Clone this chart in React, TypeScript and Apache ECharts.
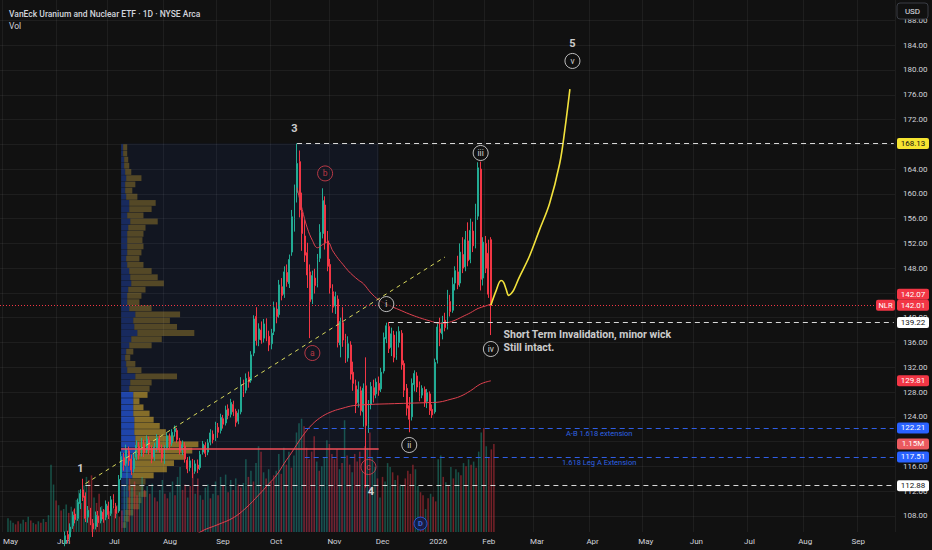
import React, { useEffect, useRef } from "react";
import * as echarts from "echarts";

// ---------- layout / style constants ----------
const W = 932;
const H = 550;
const BG = "#111111";
const UP = "#22ab94";
const DOWN = "#f23645";
const UP_VOL = "rgba(34,171,148,0.42)";
const DOWN_VOL = "rgba(242,54,69,0.45)";
const GRIDLINE = "rgba(255,255,255,0.055)";
const AXIS_TEXT = "#d1d4dc";
const FONT = 'Roboto, "Noto Sans", sans-serif';
const GRID = { left: 0, right: 37, top: 0, bottom: 18 };
const PLOT_RIGHT = W - GRID.right;
const TAG_H = 11;

const TITLE = "VanEck Uranium and Nuclear ETF · 1D · NYSE Arca";

// ---------- calendar (categories) ----------
const FIRST_SESSION = "2025-04-30";
const SESSION_COUNT = 351;
const HOLIDAYS = [
  "2025-05-26", "2025-06-19", "2025-07-04", "2025-09-01", "2025-11-27", "2025-12-25",
  "2026-01-01", "2026-01-19", "2026-02-16", "2026-04-03", "2026-05-25", "2026-06-19",
  "2026-07-03", "2026-09-07",
];
const MONTHS = ["Jan", "Feb", "Mar", "Apr", "May", "Jun", "Jul", "Aug", "Sep", "Oct", "Nov", "Dec"];

function buildSessions(start: string, count: number): string[] {
  const out: string[] = [];
  const d = new Date(start + "T00:00:00Z");
  while (out.length < count) {
    const dow = d.getUTCDay();
    const iso = d.toISOString().slice(0, 10);
    if (dow !== 0 && dow !== 6 && !HOLIDAYS.includes(iso)) out.push(iso);
    d.setUTCDate(d.getUTCDate() + 1);
  }
  return out;
}
const DATES = buildSessions(FIRST_SESSION, SESSION_COUNT);

// ---------- price axis ----------
const PRICE_MIN = 105.4;
const PRICE_MAX = 191.3;
const PRICE_TICKS = [108, 112, 116, 120, 124, 128, 132, 136, 140, 144, 148, 152, 156, 160, 164, 168, 172, 176, 180, 184, 188];
// labels hidden behind the price tags (168.13, 142.07) are not drawn
const PRICE_LABELS = [108, 112, 116, 120, 124, 128, 132, 136, 140, 148, 152, 156, 160, 164, 172, 176, 180, 184, 188];
const VOLUME_MAX = 6.95;

// ---------- daily candles [open, close, low, high] ----------
const candApr = [[82.5, 83.6, 81.9, 84.0]];
const candMay = [
  [83.6, 85.2, 83.1, 85.6], [85.8, 86.9, 85.4, 87.3], [86.5, 85.7, 85.1, 87.0], [85.5, 84.9, 84.2, 86.0],
  [85.2, 86.4, 84.9, 86.8], [86.9, 88.3, 86.5, 88.9], [88.1, 87.6, 87.0, 88.6], [89.5, 90.8, 89.0, 91.4],
  [90.9, 90.2, 89.6, 91.5], [90.3, 91.5, 89.9, 92.0], [91.2, 90.6, 89.8, 91.7], [90.8, 91.9, 90.4, 92.3],
  [91.5, 91.1, 90.3, 92.0], [91.3, 92.4, 90.9, 92.9], [92.1, 91.2, 90.6, 92.7], [91.5, 92.8, 91.0, 93.4],
  [96.5, 99.2, 95.8, 100.1], [99.8, 101.5, 99.0, 102.3], [101.2, 100.1, 99.4, 101.9], [100.4, 101.8, 99.9, 102.5],
  [101.5, 100.6, 99.8, 102.0],
];
const candJun = [
  [101.0, 102.6, 100.5, 103.2], [102.8, 104.1, 102.2, 104.6], [104.0, 103.3, 102.8, 104.9], [103.6, 104.8, 103.1, 105.5],
  [105.0, 104.2, 103.6, 105.6], [104.6, 106.2, 104.1, 106.8], [106.4, 108.1, 105.9, 108.7], [108.3, 107.4, 106.8, 109.2],
  [107.6, 110.2, 107.2, 110.8], [110.0, 111.6, 109.1, 112.3], [112.2, 111.0, 110.4, 114.0], [111.2, 107.6, 107.0, 111.8],
  [107.8, 108.9, 106.9, 109.6], [108.6, 107.2, 106.5, 109.3], [106.8, 105.9, 104.6, 107.5], [106.3, 108.1, 105.8, 108.7],
  [108.0, 106.9, 106.2, 108.8], [107.2, 108.8, 106.8, 109.4], [108.6, 107.5, 106.9, 109.1], [107.8, 109.9, 107.3, 110.5],
];
const candJul = [
  [109.6, 108.2, 107.5, 110.3], [108.4, 110.6, 108.0, 111.2], [110.8, 109.7, 109.2, 111.5], [109.5, 108.4, 107.6, 110.1],
  [108.8, 113.9, 108.5, 114.6], [114.2, 117.6, 113.8, 118.4], [117.4, 116.2, 115.3, 118.2], [116.5, 118.8, 116.0, 119.5],
  [118.5, 116.9, 116.1, 119.2], [117.2, 115.4, 114.6, 117.9], [115.6, 117.3, 115.0, 118.1], [117.5, 119.4, 117.0, 120.2],
  [119.2, 117.8, 117.1, 119.9], [118.1, 119.7, 117.6, 120.6], [119.6, 118.2, 117.5, 120.3], [118.6, 120.4, 118.1, 121.0],
  [120.2, 118.7, 117.9, 120.8], [118.9, 117.3, 116.5, 119.4], [117.5, 119.1, 116.9, 119.8], [119.0, 120.6, 118.4, 121.2],
  [120.4, 118.9, 118.2, 121.0], [118.7, 117.4, 116.6, 119.5],
];
const candAug = [
  [117.0, 118.8, 116.4, 119.4], [119.0, 120.9, 118.6, 121.5], [120.7, 119.6, 118.9, 121.3], [119.8, 121.5, 119.3, 122.0],
  [121.6, 122.1, 120.8, 122.6], [121.8, 120.3, 119.8, 122.2], [120.1, 118.4, 117.9, 120.6], [118.6, 119.5, 117.8, 120.2],
  [119.3, 117.2, 116.6, 119.9], [117.0, 115.6, 114.9, 117.5], [115.8, 116.9, 115.2, 117.6], [116.7, 115.0, 114.1, 117.2],
  [115.2, 116.4, 114.8, 117.0], [116.2, 115.6, 114.9, 117.1], [115.8, 117.9, 115.4, 118.5], [118.3, 119.6, 117.9, 120.1],
  [119.4, 118.1, 117.5, 119.9], [118.3, 119.8, 117.8, 120.4], [119.9, 121.4, 119.4, 122.0], [121.2, 120.3, 119.7, 121.8],
  [120.5, 122.6, 120.1, 123.2],
];
const candSep = [
  [122.3, 121.5, 120.6, 123.0], [121.8, 123.9, 121.3, 124.5], [123.7, 122.8, 122.1, 124.3], [123.0, 125.1, 122.6, 125.8],
  [125.3, 124.2, 123.6, 126.0], [124.4, 126.3, 123.9, 126.9], [126.0, 124.8, 124.1, 126.6], [124.9, 123.1, 122.4, 125.3],
  [123.3, 124.6, 122.8, 125.2], [124.8, 129.2, 124.4, 130.4], [129.0, 128.1, 127.2, 130.0], [128.3, 130.2, 127.8, 131.0],
  [130.4, 129.6, 128.7, 131.3], [129.9, 134.0, 129.5, 134.6], [134.3, 139.8, 133.8, 140.4], [140.2, 136.3, 135.5, 141.7],
  [136.5, 138.2, 135.4, 139.1], [138.0, 136.4, 135.8, 139.4], [136.7, 139.0, 136.0, 139.8], [138.8, 137.2, 136.2, 139.9],
  [137.0, 135.6, 134.6, 137.9],
];
const candOct = [
  [135.8, 137.5, 134.9, 138.2], [137.8, 141.6, 137.2, 142.6], [141.4, 140.2, 139.1, 142.5], [140.5, 145.3, 140.0, 146.1],
  [145.0, 143.6, 142.8, 146.4], [143.8, 147.4, 143.2, 148.3], [147.3, 145.8, 145.0, 148.6], [145.5, 149.4, 144.8, 150.2],
  [150.6, 156.3, 150.0, 157.4], [156.0, 159.8, 153.9, 161.5], [160.2, 164.9, 158.6, 168.13], [165.2, 157.4, 156.2, 167.0],
  [157.0, 153.6, 150.8, 160.2], [153.2, 150.1, 149.0, 155.8], [150.5, 146.9, 144.8, 152.1], [147.4, 142.6, 136.7, 148.6],
  [143.0, 146.8, 142.2, 147.6], [146.4, 145.2, 143.9, 147.9], [145.5, 149.4, 144.9, 150.3], [149.6, 153.8, 149.0, 155.1],
  [153.6, 158.9, 152.8, 160.9], [158.2, 152.1, 151.0, 159.6], [152.4, 148.3, 147.5, 154.0],
];
const candNov = [
  [148.6, 144.8, 143.9, 149.5], [144.2, 141.7, 140.8, 145.4], [141.9, 143.4, 140.6, 144.2], [143.0, 136.0, 135.2, 143.6],
  [135.6, 139.4, 133.6, 140.0], [139.2, 136.4, 135.3, 141.7], [136.6, 133.2, 132.7, 137.4], [133.5, 135.8, 132.9, 137.0],
  [135.6, 130.9, 130.0, 136.2], [131.2, 129.4, 128.2, 132.9], [129.0, 126.1, 124.6, 130.0], [126.3, 128.4, 125.5, 129.7],
  [128.2, 125.0, 124.2, 128.9], [124.8, 128.6, 122.4, 129.4], [129.0, 122.6, 112.6, 133.6], [122.8, 126.2, 121.4, 126.7],
  [126.0, 128.9, 125.2, 129.6], [128.7, 127.5, 126.3, 130.0], [127.7, 129.6, 127.0, 130.2],
];
const candDec = [
  [129.4, 128.3, 127.4, 130.5], [128.5, 131.2, 128.0, 131.9], [131.4, 136.8, 131.0, 137.6], [136.6, 138.7, 135.9, 139.2],
  [138.6, 135.0, 134.3, 139.3], [135.2, 137.4, 133.8, 138.4], [137.2, 133.6, 132.8, 137.9], [133.9, 136.2, 133.2, 137.8],
  [136.0, 137.8, 135.2, 138.6], [137.5, 132.4, 131.6, 138.0], [132.6, 128.3, 127.2, 133.1], [128.6, 125.4, 124.2, 129.3],
  [125.8, 123.6, 121.5, 127.2], [124.0, 129.4, 123.4, 130.2], [129.2, 131.0, 128.1, 131.5], [130.6, 128.8, 128.0, 131.2],
  [129.0, 127.3, 126.5, 129.7], [127.5, 128.6, 127.0, 129.1], [128.4, 126.3, 125.6, 128.9], [126.5, 127.9, 125.4, 128.5],
  [127.7, 125.0, 124.3, 128.1], [125.2, 124.3, 123.8, 126.0],
];
const candJan = [
  [124.8, 132.8, 124.5, 133.4], [133.2, 138.5, 132.6, 139.1], [138.2, 137.6, 135.4, 140.0], [137.4, 139.2, 136.5, 140.3],
  [139.6, 138.4, 137.8, 140.8], [138.6, 142.9, 138.1, 144.5], [142.6, 141.0, 140.2, 143.7], [141.2, 145.4, 140.8, 146.5],
  [145.6, 147.6, 144.4, 148.3], [147.4, 145.3, 144.6, 150.0], [145.6, 150.6, 145.0, 152.0], [150.2, 148.0, 147.2, 153.0],
  [148.2, 152.6, 147.5, 154.0], [152.4, 149.2, 148.3, 155.4], [149.4, 154.1, 148.8, 156.0], [154.0, 151.6, 150.6, 155.5],
  [151.8, 156.7, 151.2, 158.4], [156.4, 164.2, 155.8, 165.1], [164.0, 146.2, 144.4, 165.2], [146.4, 152.2, 145.2, 153.0],
];
const candFeb = [[152.0, 148.0, 147.2, 153.2], [150.4, 143.8, 143.2, 152.6], [152.6, 142.01, 137.2, 153.0]];

// ---------- daily volume (millions) ----------
const volApr = [0.18];
const volMay = [0.15, 0.12, 0.1, 0.14, 0.11, 0.16, 0.13, 0.2, 0.15, 0.12, 0.1, 0.14, 0.12, 0.17, 0.13, 0.22, 0.88, 0.62, 0.41, 0.35, 0.28];
const volJun = [0.3, 0.36, 0.25, 0.33, 0.29, 0.42, 0.55, 0.38, 0.61, 0.72, 0.68, 0.74, 0.45, 0.38, 0.5, 0.34, 0.29, 0.36, 0.27, 0.31];
const volJul = [0.3, 0.35, 0.2, 0.28, 0.62, 0.95, 0.7, 0.58, 0.66, 0.48, 0.52, 0.72, 0.55, 0.6, 0.5, 0.63, 0.45, 0.4, 0.55, 0.68, 0.5, 0.44];
const volAug = [0.52, 0.66, 0.48, 0.72, 0.85, 0.55, 0.62, 0.45, 0.6, 0.78, 0.5, 0.7, 0.48, 0.42, 0.58, 0.62, 0.44, 0.5, 0.66, 0.48, 0.72];
const volSep = [0.6, 0.75, 0.52, 0.68, 0.55, 0.7, 0.62, 0.58, 0.64, 0.95, 0.72, 0.8, 0.66, 0.9, 1.12, 1.05, 0.78, 0.7, 0.82, 0.66, 0.74];
const volOct = [0.8, 1.02, 0.76, 1.1, 0.88, 1.05, 0.84, 1.0, 1.3, 1.42, 1.48, 1.38, 1.1, 0.95, 1.05, 1.25, 0.92, 0.8, 0.86, 0.98, 1.2, 1.15, 1.02];
const volNov = [0.95, 1.08, 0.82, 0.9, 1.46, 1.0, 0.88, 0.78, 1.02, 0.92, 1.05, 0.8, 1.12, 1.1, 1.3, 0.98, 0.85, 0.7, 0.45];
const volDec = [0.72, 0.66, 0.9, 0.85, 0.78, 0.68, 0.74, 0.62, 0.6, 0.7, 0.8, 0.76, 0.88, 0.82, 0.6, 0.52, 0.48, 0.3, 0.44, 0.5, 0.46, 0.4];
const volJan = [0.95, 1.0, 0.72, 0.65, 0.6, 0.85, 0.7, 0.82, 0.78, 0.74, 0.9, 0.86, 0.95, 0.88, 0.92, 0.84, 1.05, 1.3, 1.36, 1.12];
const volFeb = [0.98, 1.08, 1.15];

const CANDLES = [
  ...candApr, ...candMay, ...candJun, ...candJul, ...candAug, ...candSep,
  ...candOct, ...candNov, ...candDec, ...candJan, ...candFeb,
];
const VOLUMES = [
  ...volApr, ...volMay, ...volJun, ...volJul, ...volAug, ...volSep,
  ...volOct, ...volNov, ...volDec, ...volJan, ...volFeb,
];

// ---------- indicator lines [session index, price] ----------
const upperMa = [
  [116, 161], [118, 157.5], [120, 154.5], [122, 152.5], [124, 151.3], [126, 151.8], [128, 152.2], [130, 150.8],
  [132, 149.6], [134, 148.6], [136, 147.6], [138, 146.8], [140, 146.1], [142, 145.5], [145, 144], [148, 142.9],
  [152, 142], [156, 141.3], [160, 140.6], [164, 140], [168, 139.5], [172, 139.1], [175, 139.2], [178, 139.6],
  [181, 140.2], [184, 140.8], [187, 141.5], [190, 141.9], [192, 142.2],
];
const lowerMa = [
  [60, 100.5], [70, 103], [78, 105.4], [85, 106.6], [91, 107.7], [96, 109.3], [101, 111.4], [105, 113.2],
  [108, 114.6], [111, 116.5], [114, 118.3], [118, 120.8], [122, 122.8], [126, 124.1], [130, 124.9], [134, 125.4],
  [138, 125.8], [145, 126.0], [152, 126.1], [160, 126.2], [168, 126.3], [172, 126.4], [176, 126.8], [180, 127.3],
  [184, 128.2], [188, 129.3], [192, 129.81],
];
const projection = [
  [192, 142.0], [194, 144.3], [196, 146.0], [197, 145.7], [198, 144.6], [199, 143.6], [200, 143.9], [201, 144.5],
  [203, 146.4], [207, 149.8], [211, 154.1], [215, 158.4], [219, 164.9], [221, 170.3], [223, 176.9],
];
const trendLine = [[33, 113.2], [174, 149.8]];

// ---------- volume profile (rows of 1.0 price unit starting at 106) ----------
const PROFILE_FROM = 47;
const PROFILE_TO = 148;
const PROFILE_TOP = 168.13;
const PROFILE_ROW_START = 106;
const PROFILE_ROW = 1;
const VALUE_AREA = [114, 128];
const PROFILE_SHARE = 0.3;
const profileUp = [
  2, 3, 4, 6, 6, 8, 7, 8, 11, 12, 13, 13, 14, 14, 14, 13, 13, 13, 12, 12, 12, 12, 8, 9, 14, 6, 5, 4, 5, 8, 10,
  16, 13, 12, 14, 8, 6, 6, 7, 10, 9, 8, 6, 5, 6, 6, 6, 6, 7, 9, 6, 8, 8, 5, 4, 4, 5, 4, 3, 3, 2, 2,
];
const profileDown = [
  3, 5, 8, 12, 14, 17, 15, 16, 21, 33, 39, 49, 56, 62, 38, 31, 25, 19, 16, 10, 6, 14, 20, 21, 41, 14, 9, 5, 7, 22, 30,
  56, 42, 36, 44, 22, 12, 14, 17, 32, 27, 22, 16, 13, 14, 16, 15, 16, 17, 27, 16, 22, 26, 11, 7, 10, 15, 6, 5, 4, 4, 4,
];
const POC_PRICE = 118.8;

// ---------- annotations ----------
const redWaveMarks = [
  { name: "a", value: [122, 134.3] },
  { name: "b", value: [127, 163.3] },
  { name: "c", value: [144, 115.9] },
];
const whiteWaveMarks = [
  { name: "i", value: [151, 142.2] },
  { name: "ii", value: [160, 119.45] },
  { name: "iii", value: [188, 166.6] },
  { name: "iv", value: [192, 134.95] },
  { name: "v", value: [224, 181.46] },
];
const waveNumbers = [
  { name: "1", value: [31, 115.7] },
  { name: "3", value: [115, 170.6] },
  { name: "4", value: [145, 111.86] },
  { name: "5", value: [224, 184.2] },
];
const noteText = { name: "Short Term Invalidation, minor wick\nStill intact.", value: [196, 136.25] };
const dividendMark = { name: "D", value: [163, 0.11] };

const priceTags = [
  { axis: 0, value: 168.13, bg: "#f5e431", fg: "#111111" },
  { axis: 0, value: 142.07, bg: DOWN, fg: "#ffffff" },
  { axis: 0, value: 142.01, bg: DOWN, fg: "#ffffff", ticker: "NLR" },
  { axis: 0, value: 139.22, bg: "#ffffff", fg: "#111111" },
  { axis: 0, value: 129.81, bg: DOWN, fg: "#ffffff" },
  { axis: 0, value: 122.21, bg: "#2962ff", fg: "#ffffff" },
  { axis: 1, value: 1.15, bg: "#eb5a5f", fg: "#ffffff" },
  { axis: 0, value: 117.51, bg: "#2962ff", fg: "#ffffff" },
  { axis: 0, value: 112.88, bg: "#ffffff", fg: "#111111" },
];

const isMonthStart = (idx: number) =>
  idx > 0 && DATES[idx].slice(5, 7) !== DATES[idx - 1].slice(5, 7);

function buildOption() {
  const maxRow = Math.max(...profileUp.map((u, k) => u + profileDown[k]));
  const profileData = profileUp.map((u, k) => [
    PROFILE_FROM, PROFILE_ROW_START + k * PROFILE_ROW, u, profileDown[k],
  ]);
  const lastIdx = SESSION_COUNT - 1;
  const dashed = [5, 4];

  return {
    animation: false,
    backgroundColor: BG,
    textStyle: { fontFamily: FONT },
    title: [
      { text: TITLE, left: 4, top: 4, textStyle: { color: AXIS_TEXT, fontSize: 8.5, fontWeight: 500, fontFamily: FONT } },
      { text: "Vol", left: 4, top: 16, textStyle: { color: AXIS_TEXT, fontSize: 8.5, fontWeight: "normal", fontFamily: FONT } },
    ],
    grid: [{ ...GRID }, { ...GRID }],
    xAxis: [
      {
        gridIndex: 0, type: "category", data: DATES, boundaryGap: true,
        axisLine: { show: false }, axisTick: { show: false }, axisLabel: { show: false },
        splitLine: { show: true, interval: (i: number) => isMonthStart(i), lineStyle: { color: GRIDLINE, width: 1 } },
      },
      {
        gridIndex: 1, type: "category", data: DATES, boundaryGap: true,
        axisLine: { show: false }, axisTick: { show: false }, splitLine: { show: false },
        axisLabel: {
          interval: (i: number) => isMonthStart(i),
          formatter: (v: string) => {
            const m = Number(v.slice(5, 7));
            return m === 1 ? v.slice(0, 4) : MONTHS[m - 1];
          },
          color: AXIS_TEXT, fontSize: 8, fontFamily: FONT, margin: 5,
        },
      },
    ],
    yAxis: [
      {
        gridIndex: 0, type: "value", position: "right", min: PRICE_MIN, max: PRICE_MAX,
        axisLine: { show: false },
        axisTick: { show: false, customValues: PRICE_TICKS },
        axisLabel: {
          customValues: PRICE_LABELS, formatter: (v: number) => v.toFixed(2),
          color: AXIS_TEXT, fontSize: 8, fontFamily: FONT, margin: 8,
        },
        splitLine: { show: true, lineStyle: { color: GRIDLINE, width: 1 } },
      },
      { gridIndex: 1, type: "value", min: 0, max: VOLUME_MAX, show: false },
    ],
    series: [
      {
        type: "custom", name: "profile", xAxisIndex: 0, yAxisIndex: 0, z: 1, silent: true,
        data: profileData, encode: { x: 0, y: 1 },
        renderItem: (_p: any, api: any) => {
          const lo = api.value(1) as number;
          const up = api.value(2) as number;
          const dn = api.value(3) as number;
          const a = api.coord([PROFILE_FROM, lo]);
          const b = api.coord([PROFILE_TO, lo + PROFILE_ROW]);
          const k = ((b[0] - a[0]) * PROFILE_SHARE) / maxRow;
          const inVA = lo >= VALUE_AREA[0] && lo < VALUE_AREA[1];
          const h = Math.max(a[1] - b[1] - 0.4, 0.5);
          return {
            type: "group",
            children: [
              { type: "rect", shape: { x: a[0], y: b[1], width: up * k, height: h },
                style: { fill: inVA ? "rgba(41,98,255,0.62)" : "rgba(41,98,255,0.28)" } },
              { type: "rect", shape: { x: a[0] + up * k, y: b[1], width: dn * k, height: h },
                style: { fill: inVA ? "rgba(240,190,50,0.52)" : "rgba(240,190,50,0.3)" } },
            ],
          };
        },
        markArea: {
          silent: true,
          itemStyle: { color: "rgba(41,98,255,0.07)" },
          data: [[{ xAxis: PROFILE_FROM, yAxis: PROFILE_TOP }, { xAxis: PROFILE_TO, yAxis: PRICE_MIN }]],
        },
      },
      {
        type: "bar", name: "Vol", xAxisIndex: 1, yAxisIndex: 1, z: 1, silent: true, barWidth: "60%",
        data: VOLUMES.map((v, i) => ({
          value: v,
          itemStyle: { color: CANDLES[i][1] >= CANDLES[i][0] ? UP_VOL : DOWN_VOL },
        })),
      },
      {
        type: "scatter", xAxisIndex: 1, yAxisIndex: 1, z: 6, silent: true,
        data: [dividendMark], symbol: "circle", symbolSize: 13,
        itemStyle: { color: "#0f1c4d", borderColor: "#2962ff", borderWidth: 1 },
        label: { show: true, position: "inside", formatter: "{b}", color: "#4d7dff", fontSize: 7.5, fontWeight: "bold", fontFamily: FONT },
      },
      {
        type: "candlestick", name: "NLR", xAxisIndex: 0, yAxisIndex: 0, z: 2, silent: true, barWidth: "55%",
        data: CANDLES,
        itemStyle: { color: UP, color0: DOWN, borderColor: UP, borderColor0: DOWN, borderWidth: 1 },
        markLine: {
          silent: true, symbol: ["none", "none"], animation: false,
          label: { show: false },
          data: [
            [{ coord: trendLine[0], lineStyle: { color: "#d9d95c", type: [4, 4], width: 1 } }, { coord: trendLine[1] }],
            [{ coord: [116, 168.13], lineStyle: { color: "#d8d8d8", type: dashed, width: 1 } }, { coord: [lastIdx, 168.13] }],
            [{ coord: [152, 139.22], lineStyle: { color: "#d8d8d8", type: dashed, width: 1 } }, { coord: [lastIdx, 139.22] }],
            [{ coord: [33, 112.88], lineStyle: { color: "#d8d8d8", type: dashed, width: 1 } }, { coord: [lastIdx, 112.88] }],
            [{
              coord: [119, 122.21], lineStyle: { color: "#2f5ee6", type: dashed, width: 1 },
              label: { show: true, position: "insideMiddleBottom", formatter: "A-B 1.618 extension", color: "#2f62e0", fontSize: 7.5, fontFamily: FONT, distance: 2 },
            }, { coord: [lastIdx, 122.21] }],
            [{
              coord: [119, 117.51], lineStyle: { color: "#2f5ee6", type: dashed, width: 1 },
              label: { show: true, position: "insideMiddleBottom", formatter: "1.618 Leg A Extension", color: "#2f62e0", fontSize: 7.5, fontFamily: FONT, distance: 2 },
            }, { coord: [lastIdx, 117.51] }],
            [{ coord: [PROFILE_FROM, POC_PRICE], lineStyle: { color: "#f04e58", type: "solid", width: 1.5 } }, { coord: [PROFILE_TO, POC_PRICE] }],
            { yAxis: 142.01, lineStyle: { color: DOWN, type: [1, 2], width: 1 } },
          ],
        },
      },
      {
        type: "line", name: "MA fast", xAxisIndex: 0, yAxisIndex: 0, z: 3, silent: true,
        data: upperMa, smooth: 0.4, symbol: "none", lineStyle: { color: "#e0414f", width: 1 },
      },
      {
        type: "line", name: "MA slow", xAxisIndex: 0, yAxisIndex: 0, z: 3, silent: true,
        data: lowerMa, smooth: 0.4, symbol: "none", lineStyle: { color: "#e0414f", width: 1 },
      },
      {
        type: "line", name: "Projection", xAxisIndex: 0, yAxisIndex: 0, z: 3, silent: true,
        data: projection, smooth: 0.35, symbol: "none", lineStyle: { color: "#f2e23c", width: 1.6 },
      },
      {
        type: "scatter", xAxisIndex: 0, yAxisIndex: 0, z: 5, silent: true,
        data: redWaveMarks, symbol: "circle", symbolSize: 15,
        itemStyle: { color: "rgba(17,17,17,0)", borderColor: "#e0414f", borderWidth: 1 },
        label: { show: true, position: "inside", formatter: "{b}", color: "#e0414f", fontSize: 8.5, fontFamily: FONT },
      },
      {
        type: "scatter", xAxisIndex: 0, yAxisIndex: 0, z: 5, silent: true,
        data: whiteWaveMarks, symbol: "circle", symbolSize: 15,
        itemStyle: { color: "rgba(17,17,17,0.9)", borderColor: "#e8e8e8", borderWidth: 1 },
        label: { show: true, position: "inside", formatter: "{b}", color: "#ffffff", fontSize: 8.5, fontFamily: FONT },
      },
      {
        type: "scatter", xAxisIndex: 0, yAxisIndex: 0, z: 5, silent: true,
        data: waveNumbers, symbolSize: 0,
        label: { show: true, position: "inside", formatter: "{b}", color: "#ffffff", fontSize: 11, fontWeight: "bold", fontFamily: FONT },
      },
      {
        type: "scatter", xAxisIndex: 0, yAxisIndex: 0, z: 5, silent: true,
        data: [noteText], symbolSize: 1, itemStyle: { color: "rgba(0,0,0,0)" },
        label: {
          show: true, position: "right", distance: 2, formatter: "{b}", color: "#ffffff",
          fontSize: 10.5, fontWeight: "bold", lineHeight: 12.5, fontFamily: FONT,
        },
      },
    ],
  };
}

export default function App() {
  const ref = useRef<HTMLDivElement>(null);
  useEffect(() => {
    document.body.style.margin = "0";
    document.body.style.background = BG;
    if (!ref.current) return;
    const chart = echarts.init(ref.current, null, { renderer: "svg" });
    chart.setOption(buildOption() as any);

    const tags = priceTags.map((t) => ({
      ...t,
      text: t.axis === 1 ? `${t.value.toFixed(2)}M` : t.value.toFixed(2),
      y: chart.convertToPixel({ yAxisIndex: t.axis } as any, t.value) as unknown as number,
    }));
    tags.sort((a, b) => a.y - b.y);
    for (let k = tags.length - 2; k >= 0; k--) {
      if (tags[k].y > tags[k + 1].y - TAG_H) tags[k].y = tags[k + 1].y - TAG_H;
    }
    const graphic: any[] = [];
    tags.forEach((t) => {
      graphic.push({
        type: "rect", z: 20, silent: true,
        shape: { x: PLOT_RIGHT + 2, y: t.y - TAG_H / 2, width: 32, height: TAG_H, r: 2 },
        style: { fill: t.bg },
      });
      graphic.push({
        type: "text", z: 21, silent: true, x: PLOT_RIGHT + 18, y: t.y,
        style: { text: t.text, fill: t.fg, fontSize: 8, fontFamily: FONT, align: "center", verticalAlign: "middle" },
      });
      if ((t as any).ticker) {
        graphic.push({
          type: "rect", z: 20, silent: true,
          shape: { x: PLOT_RIGHT - 19, y: t.y - TAG_H / 2, width: 19, height: TAG_H, r: 2 },
          style: { fill: t.bg },
        });
        graphic.push({
          type: "text", z: 21, silent: true, x: PLOT_RIGHT - 9.5, y: t.y,
          style: { text: (t as any).ticker, fill: t.fg, fontSize: 7.5, fontFamily: FONT, align: "center", verticalAlign: "middle" },
        });
      }
    });
    graphic.push({
      type: "rect", z: 20, silent: true,
      shape: { x: PLOT_RIGHT + 2, y: 3, width: 31, height: 16, r: 3 },
      style: { fill: BG, stroke: "#3a3d45", lineWidth: 1 },
    });
    graphic.push({
      type: "text", z: 21, silent: true, x: PLOT_RIGHT + 17.5, y: 11,
      style: { text: "USD", fill: "#e0e3eb", fontSize: 8, fontFamily: FONT, align: "center", verticalAlign: "middle" },
    });
    chart.setOption({ graphic });

    return () => chart.dispose();
  }, []);
  return <div ref={ref} style={{ width: W, height: H }} />;
}
